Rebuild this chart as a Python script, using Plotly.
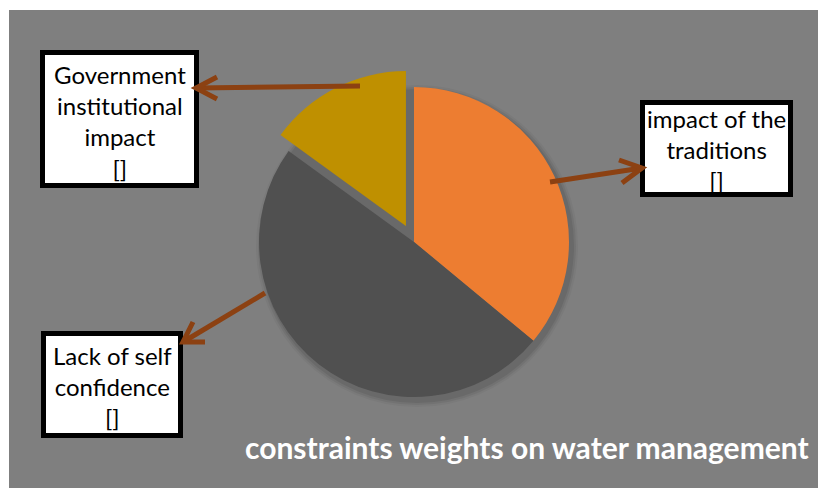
import plotly.graph_objects as go

W, H = 818, 488

# ---- data ----
categories = ["impact of the traditions", "Lack of self confidence", "Government institutional impact"]
weights = [36, 49, 15]
box_texts = ["impact of the<br>traditions<br>[]", "Lack of self<br>confidence<br>[]", "Government<br>institutional<br>impact<br>[]"]
title_text = "constraints weights on water management"

# ---- styles ----
slice_colors = ["#ED7D31", "#505050", "#BF9000"]
pulls = [0, 0, 0.115]
bg_gray = "#7F7F7F"
arrow_col = "#8C4112"


def px(x):
    return x / W


def py(y):
    return 1 - y / H


# pie geometry (pixels)
cx, cy, r = 414, 242, 155
half = r * (1 + max(pulls))

fig = go.Figure()
fig.add_trace(go.Pie(
    labels=categories, values=weights, sort=False, direction="clockwise", rotation=0,
    pull=pulls, textinfo="none", hoverinfo="label+value",
    marker=dict(colors=slice_colors, line=dict(width=0)),
    domain=dict(x=[px(cx - half), px(cx + half)], y=[py(cy + half), py(cy - half)]),
    showlegend=False,
))

shapes = []
# gray background panel
shapes.append(dict(type="rect", xref="paper", yref="paper", x0=px(9), x1=1, y0=0, y1=py(10),
                   fillcolor=bg_gray, line=dict(width=0), layer="below"))
# soft shadow under pie
for dr, a in [(6, 0.04), (4, 0.06), (2, 0.08)]:
    shapes.append(dict(type="circle", xref="paper", yref="paper",
                       x0=px(cx - r - dr + 3), x1=px(cx + r + dr + 3),
                       y0=py(cy + r + dr + 4), y1=py(cy - r - dr + 4),
                       fillcolor=f"rgba(0,0,0,{a})", line=dict(width=0), layer="below"))

# label boxes: (left, top, right, bottom) outer pixels
boxes = [(640, 100, 793, 197), (41, 331, 183, 438), (40, 50, 199, 188)]
bw = 5
for (l, t, rr, b) in boxes:
    shapes.append(dict(type="rect", xref="paper", yref="paper",
                       x0=px(l + bw / 2), x1=px(rr - bw / 2), y0=py(b - bw / 2), y1=py(t + bw / 2),
                       fillcolor="white", line=dict(color="black", width=bw), layer="above"))

# arrows: start, tip, arm1, arm2
arrows = [
    ((550, 182), (642, 168), (619, 160), (622, 183)),
    ((265, 293), (183, 342), (193, 322), (205, 342)),
    ((360, 86), (196, 88), (217, 77), (217, 99)),
]
for (s, tp, a1, a2) in arrows:
    shapes.append(dict(type="line", xref="paper", yref="paper",
                       x0=px(s[0]), y0=py(s[1]), x1=px(tp[0]), y1=py(tp[1]),
                       line=dict(color=arrow_col, width=5), layer="above"))
    shapes.append(dict(type="path", xref="paper", yref="paper",
                       path=f"M {px(a1[0])} {py(a1[1])} L {px(tp[0])} {py(tp[1])} L {px(a2[0])} {py(a2[1])}",
                       line=dict(color=arrow_col, width=5), layer="above"))

annotations = []
text_centers = [(716, 150), (112, 386), (120, 121)]
for txt, (x, y) in zip(box_texts, text_centers):
    annotations.append(dict(text=txt, x=px(x), y=py(y), xref="paper", yref="paper",
                            xanchor="center", yanchor="middle", showarrow=False,
                            font=dict(family="Lato", size=24, color="black")))

annotations.append(dict(text=f"<b>{title_text}</b>", x=px(243), y=py(447), xref="paper", yref="paper",
                        xanchor="left", yanchor="middle", showarrow=False,
                        font=dict(family="Lato", size=30, color="white")))

fig.update_layout(
    width=W, height=H, margin=dict(l=0, r=0, t=0, b=0),
    paper_bgcolor="white", plot_bgcolor="white",
    shapes=shapes, annotations=annotations, showlegend=False,
)
fig.write_html("out.html")
